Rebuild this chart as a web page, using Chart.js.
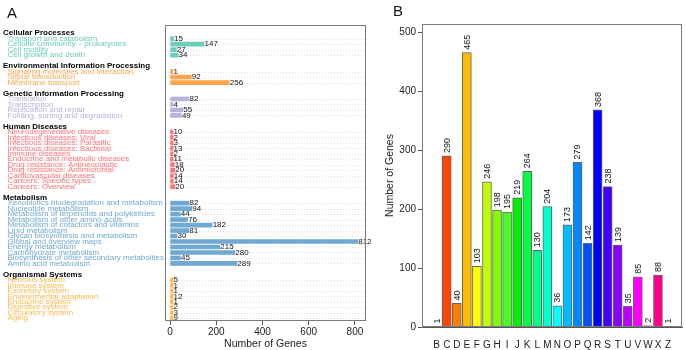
<!DOCTYPE html>
<html><head><meta charset="utf-8">
<script src="https://cdn.jsdelivr.net/npm/chart.js@4.4.0/dist/chart.umd.min.js"></script>
<style>
html,body{margin:0;padding:0;background:#fff;}
#wrap{position:relative;width:685px;height:350px;overflow:hidden;background:#fff;}
#c1{position:absolute;left:0;top:0;}
#c2{position:absolute;left:380px;top:0;}
.tag{position:absolute;font:15px "Liberation Sans",Arial,sans-serif;color:#111;line-height:15px;}
</style></head><body>
<div id="wrap">
<canvas id="c1" width="380" height="350"></canvas>
<canvas id="c2" width="305" height="350"></canvas>
<div class="tag" style="left:7px;top:5px">A</div>
<div class="tag" style="left:393px;top:3px">B</div>
</div>
<script>
// ---------- Panel A data ----------
const groupNames = ['Cellular Processes','Environmental Information Processing','Genetic Information Processing','Human Diseases','Metabolism','Organismal Systems'];
const cellularTerms = ['Transport and catabolism','Cellular community \u2013 prokaryotes','Cell motility','Cell growth and death'];
const cellularGenes = [15,147,27,34];
const environmentalTerms = ['Signaling molecules and interaction','Signal transduction','Membrane transport'];
const environmentalGenes = [1,92,256];
const geneticTerms = ['Translation','Transcription','Replication and repair','Folding, sorting and degradation'];
const geneticGenes = [82,4,55,49];
const humanTerms = ['Neurodegenerative diseases','Infectious diseases: Viral','Infectious diseases: Parasitic','Infectious diseases: Bacterial','Immune diseases','Endocrine and metabolic diseases','Drug resistance: Antineoplastic','Drug resistance: Antimicrobial','Cardiovascular diseases','Cancers: Specific types','Cancers: Overview'];
const humanGenes = [10,2,3,13,2,11,18,20,14,14,20];
const metabolismTerms = ['Xenobiotics biodegradation and metabolism','Nucleotide metabolism','Metabolism of terpenoids and polyketides','Metabolism of other amino acids','Metabolism of cofactors and vitamins','Lipid metabolism','Glycan biosynthesis and metabolism','Global and overview maps','Energy metabolism','Carbohydrate metabolism','Biosynthesis of other secondary metabolites','Amino acid metabolism'];
const metabolismGenes = [82,94,44,76,182,81,30,812,215,280,45,289];
const organismalTerms = ['Nervous system','Immune system','Excretory system','Environmental adaptation','Endocrine system','Digestive system','Circulatory system','Aging'];
const organismalGenes = [5,1,1,12,1,2,3,9];
const axisATicks = [0,200,400,600,800];

// ---------- Panel B data ----------
const cogClasses = ['B','C','D','E','F','G','H','I','J','K','L','M','N','O','P','Q','R','S','T','U','V','W','X','Z'];
const cogGenes = [1,290,40,465,103,246,198,195,219,264,130,204,36,173,279,142,368,238,139,35,85,2,88,1];
const axisBTicks = [0,100,200,300,400,500];

// ---------- styles ----------
const FONT = "'Liberation Sans', Arial, sans-serif";
const groupColors = ['#6ccdb8','#ffa64d','#b4b4dc','#ff7272','#6fa8d2','#ffb84d'];
const cogColors = ['#ff0000','#ff4400','#ff8000','#ffbb00','#ffff00','#c0ff00','#80ff00','#44ff22','#00f000','#00ff44','#00ff88','#00ffcc','#00ffff','#00bbff','#0088ff','#0050ff','#0000ff','#4400ff','#8800ff','#bb00ff','#ff00ff','#990099','#ff0088','#555555'];

// build rows for panel A
const groupTerms = [cellularTerms, environmentalTerms, geneticTerms, humanTerms, metabolismTerms, organismalTerms];
const groupGenes = [cellularGenes, environmentalGenes, geneticGenes, humanGenes, metabolismGenes, organismalGenes];
const rowLabels = [''], rowValues = [null], rowColors = ['#000'], rowHeader = [false];
groupNames.forEach((g, gi) => {
  if (gi > 0) { rowLabels.push(''); rowValues.push(null); rowColors.push('#000'); rowHeader.push(false); }
  rowLabels.push(g); rowValues.push(null); rowColors.push('#000'); rowHeader.push(true);
  groupTerms[gi].forEach((t, ti) => {
    rowLabels.push('  ' + t); rowValues.push(groupGenes[gi][ti]); rowColors.push(groupColors[gi]); rowHeader.push(false);
  });
});

const framePlugin = {
  id: 'frame',
  afterDraw(chart) {
    const a = chart.chartArea, ctx = chart.ctx;
    ctx.save();
    ctx.strokeStyle = '#7a7a7a'; ctx.lineWidth = 1;
    ctx.strokeRect(Math.round(a.left) + 0.5, Math.round(a.top) + 0.5, Math.round(a.right - a.left) - 1, Math.round(a.bottom - a.top) - 1);
    ctx.restore();
  }
};

const rowGridPlugin = {
  id: 'rowGrid',
  beforeDatasetsDraw(chart) {
    const a = chart.chartArea, ctx = chart.ctx, ys = chart.scales.y;
    ctx.save();
    ctx.strokeStyle = '#dedede'; ctx.lineWidth = 1; ctx.setLineDash([1, 2]);
    rowValues.forEach((v, i) => {
      if (v === null) return;
      const y = Math.round(ys.getPixelForValue(i)) + 0.5;
      ctx.beginPath(); ctx.moveTo(a.left + 1, y); ctx.lineTo(a.right - 1, y); ctx.stroke();
    });
    ctx.restore();
  }
};

const hLabelPlugin = {
  id: 'hLabels',
  afterDatasetsDraw(chart) {
    const ctx = chart.ctx, meta = chart.getDatasetMeta(0);
    ctx.save();
    ctx.font = '8px ' + FONT; ctx.fillStyle = '#111'; ctx.textAlign = 'left'; ctx.textBaseline = 'middle';
    meta.data.forEach((bar, i) => {
      const v = rowValues[i];
      if (v === null) return;
      ctx.fillText(String(v), bar.x + 0.5, bar.y);
    });
    ctx.restore();
  }
};

new Chart(document.getElementById('c1'), {
  type: 'bar',
  data: {
    labels: rowLabels,
    datasets: [{ data: rowValues, backgroundColor: rowColors, barThickness: 4, minBarLength: 3, borderWidth: 0 }]
  },
  options: {
    indexAxis: 'y', responsive: false, animation: false, devicePixelRatio: 1,
    layout: { padding: { top: 25, right: 14, left: 3, bottom: 0 } },
    plugins: { legend: { display: false }, tooltip: { enabled: false } },
    scales: {
      x: {
        type: 'linear', min: -22, max: 848, offset: false,
        afterBuildTicks: s => { s.ticks = axisATicks.map(v => ({ value: v })); },
        afterFit: s => { s.height = 29; },
        grid: { display: true, drawOnChartArea: false, drawTicks: true, tickLength: 4, color: '#555', offset: false },
        border: { display: false },
        ticks: { padding: 1, color: '#222', font: { size: 10, family: FONT } },
        title: { display: true, text: 'Number of Genes', color: '#222', font: { size: 10.5, family: FONT }, padding: { top: 1, bottom: 0 } }
      },
      y: {
        type: 'category', offset: true,
        afterFit: s => { s.width = 162; },
        grid: { display: false },
        border: { display: false },
        ticks: {
          autoSkip: false, crossAlign: 'far', padding: 0,
          color: ctx => rowColors[ctx.index],
          font: ctx => rowHeader[ctx.index] ? { size: 8, weight: 'bold', family: FONT } : { size: 8, family: FONT }
        }
      }
    }
  },
  plugins: [rowGridPlugin, hLabelPlugin, framePlugin]
});

// ---------- Panel B ----------
const vLabelPlugin = {
  id: 'vLabels',
  afterDatasetsDraw(chart) {
    const ctx = chart.ctx, meta = chart.getDatasetMeta(0);
    ctx.save();
    ctx.font = '9px ' + FONT; ctx.fillStyle = '#111'; ctx.textAlign = 'left'; ctx.textBaseline = 'middle';
    meta.data.forEach((bar, i) => {
      ctx.save();
      ctx.translate(bar.x + 0.5, bar.y - 3);
      ctx.rotate(-Math.PI / 2);
      ctx.fillText(String(cogGenes[i]), 0, 0);
      ctx.restore();
    });
    ctx.restore();
  }
};

new Chart(document.getElementById('c2'), {
  type: 'bar',
  data: {
    datasets: [{
      data: cogClasses.map((c, i) => ({ x: i, y: cogGenes[i] })),
      backgroundColor: cogColors, borderColor: '#666', borderWidth: 1, barThickness: 9
    }]
  },
  options: {
    responsive: false, animation: false, devicePixelRatio: 1,
    layout: { padding: { top: 24, right: 3, left: 0, bottom: 0 } },
    plugins: { legend: { display: false }, tooltip: { enabled: false } },
    scales: {
      x: {
        type: 'linear', min: -1.46, max: 24.39, offset: false,
        afterBuildTicks: s => { s.ticks = cogClasses.map((c, i) => ({ value: i })); },
        afterFit: s => { s.height = 23; },
        grid: { display: false, offset: false },
        border: { display: true, color: '#555', width: 1 },
        ticks: { padding: 4, color: '#222', font: { size: 10, family: FONT }, maxRotation: 0, autoSkip: false, callback: v => cogClasses[v] }
      },
      y: {
        type: 'linear', min: 0, max: 513.6,
        afterBuildTicks: s => { s.ticks = axisBTicks.map(v => ({ value: v })); },
        afterFit: s => { s.width = 42; },
        grid: { display: true, drawOnChartArea: false, drawTicks: true, tickLength: 4, color: '#555' },
        border: { display: true, color: '#7a7a7a', width: 1 },
        ticks: { padding: 2, color: '#222', font: { size: 10, family: FONT } },
        title: { display: true, text: 'Number of Genes', color: '#222', font: { size: 10.5, family: FONT }, padding: { top: 4, bottom: 0 } }
      }
    }
  },
  plugins: [vLabelPlugin, framePlugin]
});
</script>
</body></html>
